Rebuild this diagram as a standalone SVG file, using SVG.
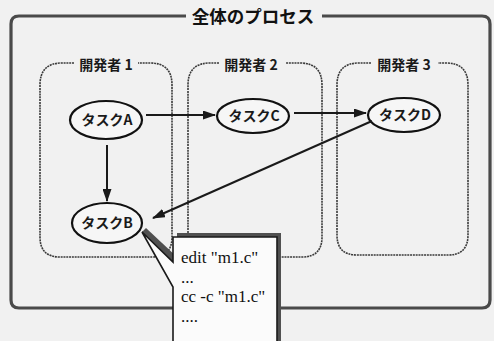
<svg xmlns="http://www.w3.org/2000/svg" width="494" height="341" viewBox="0 0 494 341">
  <defs>
    <style>
      .outer { fill: none; stroke: #4a4a4a; stroke-width: 3.2; }
      .dev { fill: none; stroke: #3a3a3a; stroke-width: 1.6; stroke-dasharray: 2 0.8; }
      .devlabel { font-family: "Noto Sans CJK JP", sans-serif; font-weight: bold; font-size: 14px; fill: #1a1a1a; text-anchor: middle; }
      .title { font-family: "Noto Sans CJK JP", sans-serif; font-weight: bold; font-size: 17.5px; fill: #111; text-anchor: middle; }
      .task { fill: #f6f6f6; stroke: #111; stroke-width: 2.2; }
      .tasklabel { font-family: "Noto Sans CJK JP", sans-serif; font-weight: bold; font-size: 14px; fill: #1a1a1a; text-anchor: middle; }
      .arrow { fill: none; stroke: #1a1a1a; stroke-width: 2; marker-end: url(#ah); }
      .code { font-family: "Liberation Serif", serif; font-size: 17px; fill: #111; }
    </style>
    <marker id="ah" markerUnits="userSpaceOnUse" markerWidth="13" markerHeight="9" refX="12" refY="4.5" orient="auto">
      <path d="M0,0 L13,4.5 L0,9 Z" fill="#1a1a1a"/>
    </marker>
  </defs>
  <rect x="0" y="0" width="494" height="341" fill="#f1f1f1"/>

  <g id="outer-process">
    <path class="outer" d="M186,16 H19 Q11,16 11,24 V300 Q11,308 19,308 H482 Q490,308 490,300 V24 Q490,16 482,16 H322"/>
    <text class="title" x="253" y="23">全体のプロセス</text>
  </g>

  <g id="dev1">
    <path class="dev" d="M74,63 H62 Q40,63 40,85 V237 Q40,257 60,257 H152 Q172,257 172,237 V85 Q172,63 150,63 H138"/>
    <text class="devlabel" x="106" y="70">開発者 1</text>
  </g>
  <g id="dev2">
    <path class="dev" d="M219,63 H210 Q188,63 188,85 V237 Q188,257 208,257 H302 Q322,257 322,237 V85 Q322,63 300,63 H286"/>
    <text class="devlabel" x="251" y="70">開発者 2</text>
  </g>
  <g id="dev3">
    <path class="dev" d="M371,63 H359 Q337,63 337,85 V235 Q337,255 357,255 H448 Q468,255 468,235 V85 Q468,63 446,63 H438"/>
    <text class="devlabel" x="404" y="70">開発者 3</text>
  </g>

  <g id="taskA">
    <ellipse class="task" cx="106" cy="120" rx="36" ry="19"/>
    <text class="tasklabel" x="107" y="125">タスクA</text>
  </g>
  <g id="taskB">
    <ellipse class="task" cx="107" cy="223" rx="35" ry="20"/>
    <text class="tasklabel" x="107" y="228">タスクB</text>
  </g>
  <g id="taskC">
    <ellipse class="task" cx="253" cy="116" rx="36" ry="17"/>
    <text class="tasklabel" x="254" y="121">タスクC</text>
  </g>
  <g id="taskD">
    <ellipse class="task" cx="404" cy="115" rx="36" ry="17"/>
    <text class="tasklabel" x="405" y="120">タスクD</text>
  </g>

  <g id="connectors">
    <line class="arrow" x1="146" y1="115" x2="215" y2="115"/>
    <line class="arrow" x1="294" y1="113" x2="366" y2="113"/>
    <line class="arrow" x1="107" y1="145" x2="107" y2="201"/>
    <line class="arrow" x1="372" y1="121" x2="153" y2="218"/>
  </g>

  <g id="callout">
    <rect x="177" y="233" width="104" height="112" fill="#505050"/>
    <path d="M142,232 L146,228 L177,257 L173,262 Z" fill="#505050"/>
    <path d="M173,345 V287 L142,232 L173,262 V237 H277 V345 Z" fill="#fbfbfb" stroke="#1a1a1a" stroke-width="1.6"/>
    <text class="code" x="181" y="263">edit "m1.c"</text>
    <text class="code" x="181" y="283">...</text>
    <text class="code" x="181" y="302">cc -c "m1.c"</text>
    <text class="code" x="181" y="322">....</text>
  </g>
</svg>
